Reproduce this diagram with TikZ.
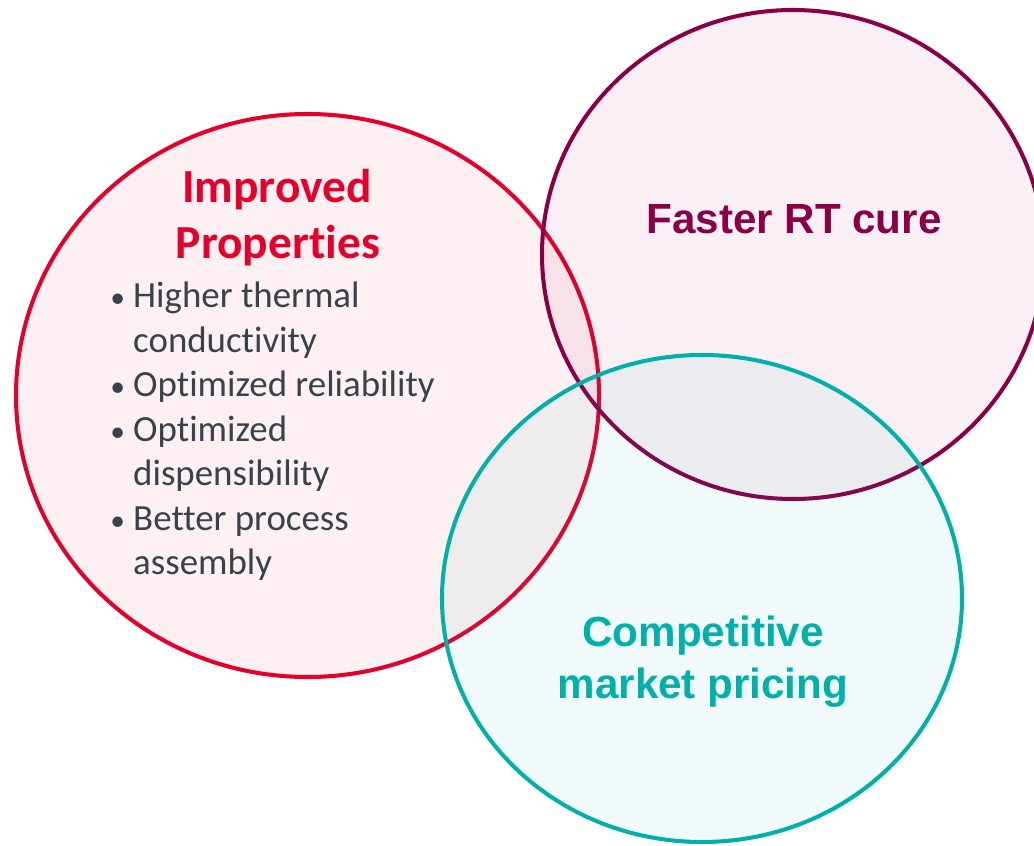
\documentclass[tikz,border=0pt]{standalone}
\usepackage{fontspec}
\setmainfont{Carlito}[Ligatures=NoCommon]
\newfontfamily\headfont{Liberation Sans}
\definecolor{propred}{HTML}{E4002B}
\definecolor{curepurple}{HTML}{8A0047}
\definecolor{priceteal}{HTML}{00B0A9}
\definecolor{bodygray}{HTML}{37424A}
\newcommand{\listdot}{\makebox[13.6pt][l]{\hspace{0.6pt}\scalebox{0.8}{\textbullet}}}
\newcommand{\listgap}{\hspace*{13.6pt}}
\tikzset{
  venn/.style={line width=2.3pt, fill opacity=0.06},
}
\begin{document}
\begin{tikzpicture}[x=0.02cm, y=-0.02cm]

      \useasboundingbox (0,0) rectangle (1034,845);
      \clip (0,0) rectangle (1034,845);

      % the three sets
      \draw[venn, draw=propred, fill=propred] (307.5,395.5) ellipse [x radius=291.5, y radius=281.5];
      \draw[venn, draw=curepurple, fill=curepurple] (793,254.5) ellipse [x radius=251, y radius=244.5];
      \draw[venn, draw=priceteal, fill=priceteal] (702,598.5) ellipse [x radius=260, y radius=243.5];

      \begin{scope}[every node/.style={inner sep=0pt, align=center, anchor=base}]
        \node[font=\bfseries\fontsize{27}{31.8}\selectfont, text=propred] (improved) at (277,202) {Improved};
        \node[font=\bfseries\fontsize{27}{31.8}\selectfont, text=propred] (properties) at (278,258) {Properties};
        \node[font=\headfont\bfseries\fontsize{24}{30}\selectfont, text=curepurple] (faster) at (794,233) {Faster RT cure};
        \node[font=\headfont\bfseries\fontsize{24}{30}\selectfont, text=priceteal] (competitive) at (703,646) {Competitive};
        \node[font=\headfont\bfseries\fontsize{24}{30}\selectfont, text=priceteal] (market) at (703,698) {market pricing};
      \end{scope}

      % bullet list
      \node[inner sep=0pt, anchor=north west, align=left, text=bodygray,
            font=\fontsize{21}{25.3}\selectfont] (list) at (109,282)
        {\listdot Higher thermal\\
         \listgap conductivity\\
         \listdot Optimized reliability\\
         \listdot Optimized\\
         \listgap dispensibility\\
         \listdot Better process\\
         \listgap assembly};

    \end{tikzpicture}
\end{document}
